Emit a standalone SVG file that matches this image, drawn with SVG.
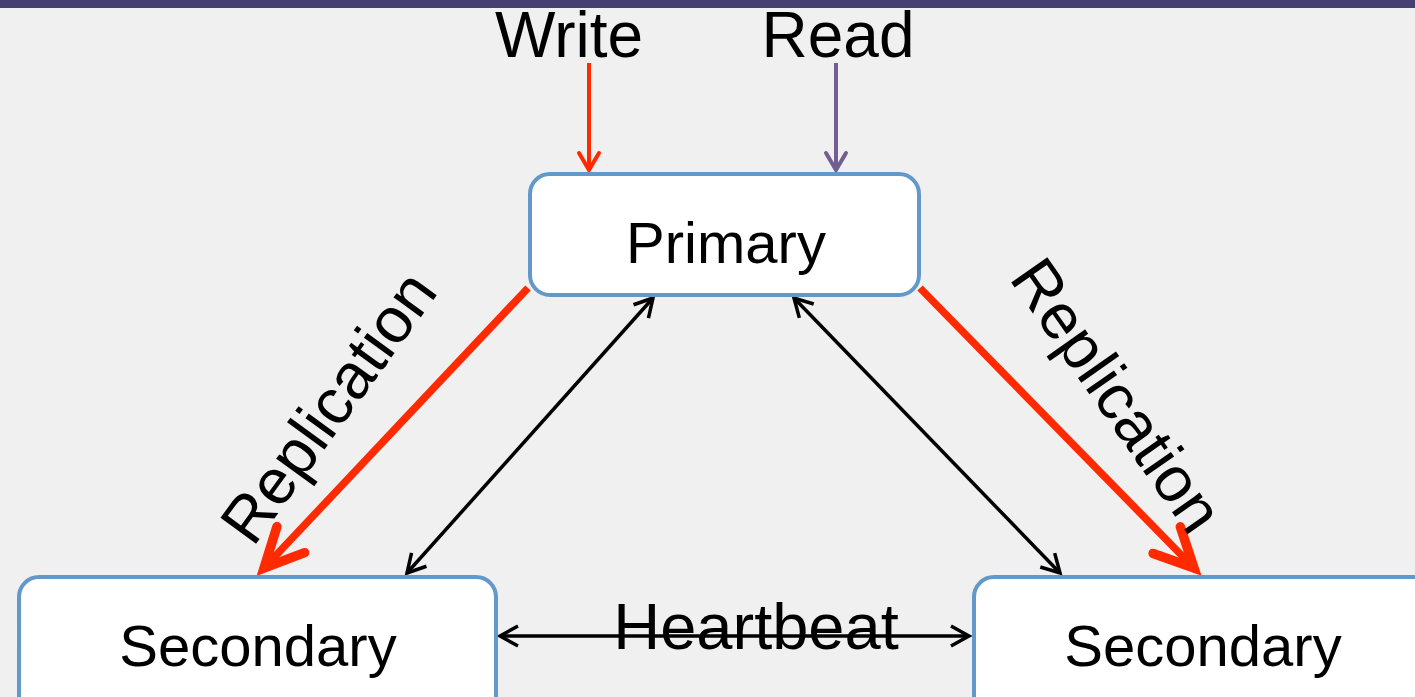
<svg xmlns="http://www.w3.org/2000/svg" width="1415" height="697" viewBox="0 0 1415 697">
<style>
.box{fill:#ffffff;stroke:#6398CB;stroke-width:4}
.lbl{font-family:"Liberation Sans",Arial,sans-serif;fill:#000000}
.blk{stroke:#000000;stroke-width:3.5;fill:none}
.red{stroke:#FF2A00;stroke-width:7.5;fill:none}
</style>
<defs>
<marker id="ah" markerUnits="userSpaceOnUse" viewBox="-22 -12 28 24" refX="0" refY="0" markerWidth="28" markerHeight="24" orient="auto-start-reverse" overflow="visible">
<path d="M-18,-10 L0,0 L-18,10" fill="none" stroke="#000000" stroke-width="3.5" stroke-linejoin="miter"/>
</marker>
<marker id="ahw" markerUnits="userSpaceOnUse" viewBox="-22 -12 28 24" refX="0" refY="0" markerWidth="28" markerHeight="24" orient="auto" overflow="visible">
<path d="M-17,-10 L0,0 L-17,10" fill="none" stroke="#FF2A00" stroke-width="4" stroke-linecap="round"/>
</marker>
<marker id="ahr" markerUnits="userSpaceOnUse" viewBox="-22 -12 28 24" refX="0" refY="0" markerWidth="28" markerHeight="24" orient="auto" overflow="visible">
<path d="M-17,-10 L0,0 L-17,10" fill="none" stroke="#735E92" stroke-width="4" stroke-linecap="round"/>
</marker>
<marker id="ahred" markerUnits="userSpaceOnUse" viewBox="-50 -25 60 50" refX="0" refY="0" markerWidth="60" markerHeight="50" orient="auto" overflow="visible">
<path d="M-39,-19 L0,0 L-39,19" fill="none" stroke="#FF2A00" stroke-width="9.5" stroke-linecap="round" stroke-linejoin="miter"/>
</marker>
</defs>
<rect x="0" y="0" width="1415" height="697" fill="#F0F0F0"/>
<rect x="0" y="0" width="1415" height="8" fill="#453F72"/>
<g id="connectors">
<line class="red" x1="528" y1="288" x2="264" y2="568" marker-end="url(#ahred)"/>
<line class="red" x1="920" y1="288" x2="1194" y2="568" marker-end="url(#ahred)"/>
<line class="blk" x1="653" y1="298" x2="407" y2="573" marker-start="url(#ah)" marker-end="url(#ah)"/>
<line class="blk" x1="794" y1="298" x2="1060" y2="573" marker-start="url(#ah)" marker-end="url(#ah)"/>
<line class="blk" x1="500" y1="636" x2="969" y2="636" marker-start="url(#ah)" marker-end="url(#ah)"/>
<line x1="589" y1="63" x2="589" y2="170" stroke="#FF2A00" stroke-width="4" marker-end="url(#ahw)"/>
<line x1="836" y1="63" x2="836" y2="170" stroke="#735E92" stroke-width="4" marker-end="url(#ahr)"/>
<text class="lbl" font-size="64" text-anchor="middle" transform="translate(346,420) rotate(-54)">Replication</text>
<text class="lbl" font-size="64" text-anchor="middle" transform="translate(1099,408) rotate(55)">Replication</text>
<text class="lbl" x="756" y="649" font-size="65" text-anchor="middle">Heartbeat</text>
<text class="lbl" x="569" y="57" font-size="64" text-anchor="middle">Write</text>
<text class="lbl" x="838" y="57" font-size="64" text-anchor="middle">Read</text>
</g>
<g id="primary">
<rect class="box" x="530" y="174" width="389" height="121" rx="20"/>
<text class="lbl" x="726" y="263" font-size="58" text-anchor="middle">Primary</text>
</g>
<g id="secondary-left">
<rect class="box" x="19" y="577" width="477" height="140" rx="20"/>
<text class="lbl" x="258" y="666" font-size="58" text-anchor="middle">Secondary</text>
</g>
<g id="secondary-right">
<rect class="box" x="974" y="577" width="470" height="140" rx="20"/>
<text class="lbl" x="1203" y="666" font-size="58" text-anchor="middle">Secondary</text>
</g>
</svg>
